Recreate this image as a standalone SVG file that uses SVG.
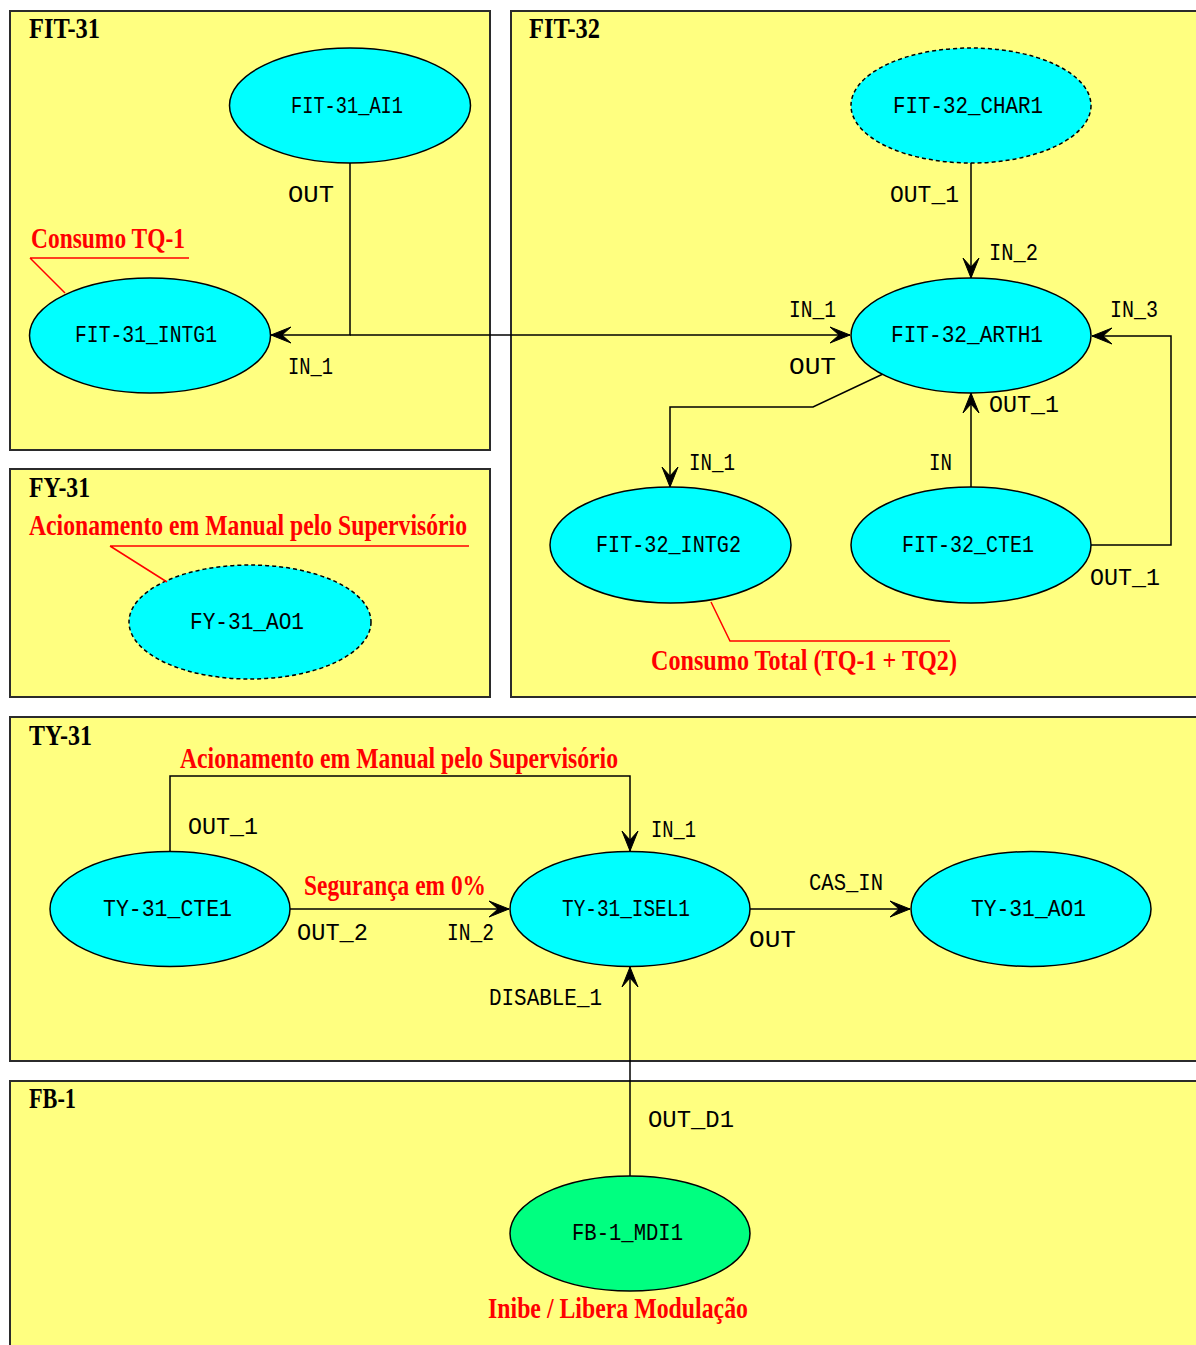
<svg xmlns="http://www.w3.org/2000/svg" width="1196" height="1345" viewBox="0 0 1196 1345">
  <style>
    .box { fill: #ffff80; stroke: #2b2b2b; stroke-width: 2; }
    .title { font-family: "Liberation Serif", serif; font-weight: bold; font-size: 29px; fill: #000; }
    .node { fill: #00ffff; stroke: #000; stroke-width: 1.5; }
    .dash { stroke-dasharray: 4 3; }
    .mdi { fill: #00ff80; }
    .nlabel { font-family: "Liberation Mono", monospace; font-size: 23px; fill: #000; }
    .elabel { font-family: "Liberation Mono", monospace; font-size: 23px; fill: #000; }
    .edge { fill: none; stroke: #000; stroke-width: 1.5; marker-end: url(#arr); }
    .note { font-family: "Liberation Serif", serif; font-weight: bold; font-size: 29px; fill: #ff0000; }
    .leader { fill: none; stroke: #ff0000; stroke-width: 1.5; }
  </style>
  <defs>
    <marker id="arr" markerUnits="userSpaceOnUse" orient="auto" markerWidth="26" markerHeight="20" viewBox="-23 -10 26 20" refX="0" refY="0">
      <path d="M0,0 L-20,-8 L-11,0 L-20,8 Z" fill="#000" stroke="#000" stroke-width="1"/>
    </marker>
  </defs>

  <rect x="0" y="0" width="1196" height="1345" fill="#ffffff"/>

  <!-- cluster boxes -->
  <g id="cluster-FIT-31">
    <rect class="box" x="10" y="11" width="480" height="439"/>
    <text class="title" x="29" y="38" textLength="71" lengthAdjust="spacingAndGlyphs">FIT-31</text>
  </g>
  <g id="cluster-FIT-32">
    <rect class="box" x="511" y="11" width="700" height="686"/>
    <text class="title" x="529" y="38" textLength="71" lengthAdjust="spacingAndGlyphs">FIT-32</text>
  </g>
  <g id="cluster-FY-31">
    <rect class="box" x="10" y="469" width="480" height="228"/>
    <text class="title" x="29" y="497" textLength="61" lengthAdjust="spacingAndGlyphs">FY-31</text>
  </g>
  <g id="cluster-TY-31">
    <rect class="box" x="10" y="717" width="1200" height="344"/>
    <text class="title" x="29" y="745" textLength="63" lengthAdjust="spacingAndGlyphs">TY-31</text>
  </g>
  <g id="cluster-FB-1">
    <rect class="box" x="10" y="1081" width="1200" height="280"/>
    <text class="title" x="29" y="1108" textLength="47" lengthAdjust="spacingAndGlyphs">FB-1</text>
  </g>

  <!-- connectors -->
  <g id="connectors">
    <path class="edge" d="M350,163 V335 H271"/>
    <path class="edge" d="M350,335 H850"/>
    <path class="edge" d="M971,163 V278"/>
    <path class="edge" d="M883,374 L813,407 H670 V487"/>
    <path class="edge" d="M971,487 V393"/>
    <path class="edge" d="M1091,545 H1171 V336 H1092"/>
    <path class="edge" d="M170,852 V776 H630 V851"/>
    <path class="edge" d="M290,909 H509"/>
    <path class="edge" d="M750,909 H910"/>
    <path class="edge" d="M630,1176 V967"/>

    <text class="elabel" x="288" y="202" textLength="46" lengthAdjust="spacingAndGlyphs">OUT</text>
    <text class="elabel" x="288" y="374" textLength="45" lengthAdjust="spacingAndGlyphs">IN_1</text>
    <text class="elabel" x="789" y="317" textLength="47" lengthAdjust="spacingAndGlyphs">IN_1</text>
    <text class="elabel" x="789" y="374" textLength="47" lengthAdjust="spacingAndGlyphs">OUT</text>
    <text class="elabel" x="1110" y="317" textLength="48" lengthAdjust="spacingAndGlyphs">IN_3</text>
    <text class="elabel" x="890" y="202" textLength="69" lengthAdjust="spacingAndGlyphs">OUT_1</text>
    <text class="elabel" x="989" y="260" textLength="49" lengthAdjust="spacingAndGlyphs">IN_2</text>
    <text class="elabel" x="989" y="412" textLength="70" lengthAdjust="spacingAndGlyphs">OUT_1</text>
    <text class="elabel" x="689" y="470" textLength="46" lengthAdjust="spacingAndGlyphs">IN_1</text>
    <text class="elabel" x="929" y="470" textLength="23" lengthAdjust="spacingAndGlyphs">IN</text>
    <text class="elabel" x="1090" y="585" textLength="70" lengthAdjust="spacingAndGlyphs">OUT_1</text>
    <text class="elabel" x="188" y="834" textLength="70" lengthAdjust="spacingAndGlyphs">OUT_1</text>
    <text class="elabel" x="651" y="837" textLength="45" lengthAdjust="spacingAndGlyphs">IN_1</text>
    <text class="elabel" x="297" y="940" textLength="71" lengthAdjust="spacingAndGlyphs">OUT_2</text>
    <text class="elabel" x="447" y="940" textLength="47" lengthAdjust="spacingAndGlyphs">IN_2</text>
    <text class="elabel" x="809" y="890" textLength="74" lengthAdjust="spacingAndGlyphs">CAS_IN</text>
    <text class="elabel" x="749" y="947" textLength="47" lengthAdjust="spacingAndGlyphs">OUT</text>
    <text class="elabel" x="489" y="1005" textLength="113" lengthAdjust="spacingAndGlyphs">DISABLE_1</text>
    <text class="elabel" x="648" y="1127" textLength="86" lengthAdjust="spacingAndGlyphs">OUT_D1</text>
  </g>

  <!-- nodes -->
  <g id="FIT-31_AI1">
    <ellipse class="node" cx="350" cy="105.5" rx="120.5" ry="57.5"/>
    <text class="nlabel" x="291" y="113" textLength="112" lengthAdjust="spacingAndGlyphs">FIT-31_AI1</text>
  </g>
  <g id="FIT-31_INTG1">
    <ellipse class="node" cx="150" cy="335.5" rx="120.5" ry="57.5"/>
    <text class="nlabel" x="75" y="342" textLength="142" lengthAdjust="spacingAndGlyphs">FIT-31_INTG1</text>
  </g>
  <g id="FY-31_AO1">
    <ellipse class="node dash" cx="250" cy="622" rx="121" ry="57"/>
    <text class="nlabel" x="190" y="629" textLength="114" lengthAdjust="spacingAndGlyphs">FY-31_AO1</text>
  </g>
  <g id="FIT-32_CHAR1">
    <ellipse class="node dash" cx="971" cy="105.5" rx="120" ry="57.5"/>
    <text class="nlabel" x="893" y="113" textLength="150" lengthAdjust="spacingAndGlyphs">FIT-32_CHAR1</text>
  </g>
  <g id="FIT-32_ARTH1">
    <ellipse class="node" cx="971" cy="335.5" rx="120" ry="57.5"/>
    <text class="nlabel" x="891" y="342" textLength="152" lengthAdjust="spacingAndGlyphs">FIT-32_ARTH1</text>
  </g>
  <g id="FIT-32_INTG2">
    <ellipse class="node" cx="670.5" cy="545" rx="120.5" ry="58"/>
    <text class="nlabel" x="596" y="552" textLength="145" lengthAdjust="spacingAndGlyphs">FIT-32_INTG2</text>
  </g>
  <g id="FIT-32_CTE1">
    <ellipse class="node" cx="971" cy="545" rx="120" ry="58"/>
    <text class="nlabel" x="902" y="552" textLength="132" lengthAdjust="spacingAndGlyphs">FIT-32_CTE1</text>
  </g>
  <g id="TY-31_CTE1">
    <ellipse class="node" cx="170" cy="909" rx="120" ry="57.5"/>
    <text class="nlabel" x="103" y="916" textLength="129" lengthAdjust="spacingAndGlyphs">TY-31_CTE1</text>
  </g>
  <g id="TY-31_ISEL1">
    <ellipse class="node" cx="630" cy="909" rx="120" ry="57.5"/>
    <text class="nlabel" x="562" y="916" textLength="128" lengthAdjust="spacingAndGlyphs">TY-31_ISEL1</text>
  </g>
  <g id="TY-31_AO1">
    <ellipse class="node" cx="1031" cy="909" rx="120" ry="57.5"/>
    <text class="nlabel" x="971" y="916" textLength="115" lengthAdjust="spacingAndGlyphs">TY-31_AO1</text>
  </g>
  <g id="FB-1_MDI1">
    <ellipse class="node mdi" cx="630" cy="1233.5" rx="120" ry="57.5"/>
    <text class="nlabel" x="572" y="1240" textLength="111" lengthAdjust="spacingAndGlyphs">FB-1_MDI1</text>
  </g>

  <!-- red annotations -->
  <g id="notes">
    <text class="note" x="31" y="248" textLength="154" lengthAdjust="spacingAndGlyphs">Consumo TQ-1</text>
    <path class="leader" d="M30,258 H189 M30,258 L65,293"/>

    <text class="note" x="29" y="535" textLength="438" lengthAdjust="spacingAndGlyphs">Acionamento em Manual pelo Supervisório</text>
    <path class="leader" d="M110,546 H469 M110,546 L167,582"/>

    <text class="note" x="651" y="670" textLength="306" lengthAdjust="spacingAndGlyphs">Consumo Total (TQ-1 + TQ2)</text>
    <path class="leader" d="M711,602 L730,641 H950"/>

    <text class="note" x="180" y="768" textLength="438" lengthAdjust="spacingAndGlyphs">Acionamento em Manual pelo Supervisório</text>
    <text class="note" x="304" y="895" textLength="182" lengthAdjust="spacingAndGlyphs">Segurança em 0%</text>
    <text class="note" x="488" y="1318" textLength="260" lengthAdjust="spacingAndGlyphs">Inibe / Libera Modulação</text>
  </g>
</svg>
